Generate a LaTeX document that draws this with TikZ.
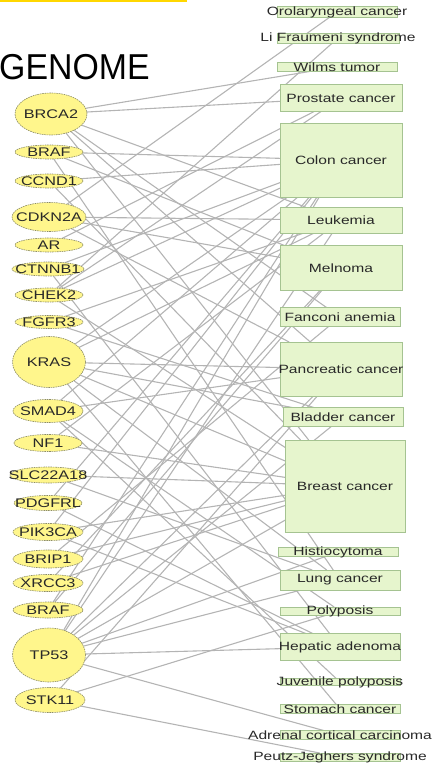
\documentclass[tikz,border=0pt]{standalone}
\usepackage{fontspec}
\setmainfont{Liberation Sans}
\newfontfamily\genefont[FakeStretch=1.3]{Liberation Sans}
\newfontfamily\disfont[FakeStretch=1.3]{Liberation Sans}
\newfontfamily\titlefont[FakeStretch=0.94]{Liberation Sans}
\usetikzlibrary{shapes.geometric,backgrounds}
\definecolor{genefill}{RGB}{255,246,140}
\definecolor{geneline}{RGB}{140,140,100}
\definecolor{disfill}{RGB}{230,245,205}
\definecolor{disline}{RGB}{165,195,145}
\definecolor{edgegray}{RGB}{180,180,180}
\definecolor{goldbar}{RGB}{255,215,0}
\definecolor{txt}{RGB}{40,40,40}
\tikzset{
  gene/.style={ellipse, fill=genefill, draw=geneline, line width=0.6pt, dash pattern=on 1.6pt off 0.8pt, inner sep=0pt, outer sep=0pt},
  dis/.style={rectangle, fill=disfill, draw=disline, line width=0.7pt, inner sep=0pt, outer sep=0pt},
  glabel/.style={font=\genefont\fontsize{12.5}{12.5}\selectfont, text=txt, inner sep=0pt},
  dlabel/.style={font=\disfont\fontsize{12}{12}\selectfont, text=txt, inner sep=0pt},
  link/.style={draw=edgegray, line width=1.1pt},
}
\begin{document}
\begin{tikzpicture}[x=1pt,y=-1pt]
\useasboundingbox (0,0) rectangle (437,765);
\fill[goldbar] (0,0) rectangle (187,1.6);
\node[font=\titlefont\fontsize{36}{36}\selectfont, anchor=west, inner sep=0pt] (title) at (-1,67) {GENOME};
% genes
\node[gene, minimum width=72pt, minimum height=42pt, label={[glabel]center:BRCA2}] (brcaA) at (51,114) {};
\node[gene, minimum width=68pt, minimum height=14pt, label={[glabel]center:BRAF}] (brafA) at (49,152) {};
\node[gene, minimum width=68pt, minimum height=14pt, label={[glabel]center:CCND1}] (ccnd) at (49,181) {};
\node[gene, minimum width=74pt, minimum height=29pt, label={[glabel]center:CDKN2A}] (cdkn) at (49,217) {};
\node[gene, minimum width=68pt, minimum height=14pt, label={[glabel]center:AR}] (ar) at (49,245) {};
\node[gene, minimum width=72pt, minimum height=14pt, label={[glabel]center:CTNNB1}] (ctnnb) at (48,269) {};
\node[gene, minimum width=68pt, minimum height=14pt, label={[glabel]center:CHEK2}] (chek) at (49,295) {};
\node[gene, minimum width=68pt, minimum height=13pt, label={[glabel]center:FGFR3}] (fgfr) at (49,322) {};
\node[gene, minimum width=73pt, minimum height=51pt, label={[glabel]center:KRAS}] (kras) at (49,362) {};
\node[gene, minimum width=70pt, minimum height=23pt, label={[glabel]center:SMAD4}] (smad) at (48,411) {};
\node[gene, minimum width=68pt, minimum height=17pt, label={[glabel]center:NF1}] (nf) at (48,443) {};
\node[gene, minimum width=76pt, minimum height=16pt, label={[glabel]center:SLC22A18}] (slc) at (48,475) {};
\node[gene, minimum width=68pt, minimum height=15pt, label={[glabel]center:PDGFRL}] (pdgfrl) at (48,503) {};
\node[gene, minimum width=70pt, minimum height=17pt, label={[glabel]center:PIK3CA}] (pik) at (48,532) {};
\node[gene, minimum width=70pt, minimum height=18pt, label={[glabel]center:BRIP1}] (brip) at (48,559) {};
\node[gene, minimum width=70pt, minimum height=17pt, label={[glabel]center:XRCC3}] (xrcc) at (48,583) {};
\node[gene, minimum width=70pt, minimum height=16pt, label={[glabel]center:BRAF}] (brafB) at (48,610) {};
\node[gene, minimum width=73pt, minimum height=54pt, label={[glabel]center:TP53}] (tp) at (49,655) {};
\node[gene, minimum width=70pt, minimum height=25pt, label={[glabel]center:STK11}] (stk) at (50,700) {};
% diseases
\node[dis, minimum width=120pt, minimum height=11pt, label={[dlabel]center:Orolaryngeal cancer}] (oro) at (337,12) {};
\node[dis, minimum width=122pt, minimum height=10pt, label={[dlabel]center:Li Fraumeni syndrome}] (lif) at (338,38) {};
\node[dis, minimum width=120pt, minimum height=9pt, label={[dlabel]center:Wilms tumor}] (wilms) at (337,67) {};
\node[dis, minimum width=122pt, minimum height=27pt, label={[dlabel]center:Prostate cancer}] (pros) at (341,98) {};
\node[dis, minimum width=122pt, minimum height=74pt, label={[dlabel]center:Colon cancer}] (colon) at (341,160) {};
\node[dis, minimum width=122pt, minimum height=26pt, label={[dlabel]center:Leukemia}] (leuk) at (341,220) {};
\node[dis, minimum width=122pt, minimum height=45pt, label={[dlabel]center:Melnoma}] (mel) at (341,268) {};
\node[dis, minimum width=120pt, minimum height=19pt, label={[dlabel]center:Fanconi anemia}] (fanc) at (340,317) {};
\node[dis, minimum width=122pt, minimum height=54pt, label={[dlabel]center:Pancreatic cancer}] (panc) at (341,369) {};
\node[dis, minimum width=120pt, minimum height=19pt, label={[dlabel]center:Bladder cancer}] (blad) at (343,417) {};
\node[dis, minimum width=120pt, minimum height=92pt, label={[dlabel]center:Breast cancer}] (breast) at (345,486) {};
\node[dis, minimum width=120pt, minimum height=9pt, label={[dlabel]center:Histiocytoma}] (hist) at (338,552) {};
\node[dis, minimum width=120pt, minimum height=20pt, label={[dlabel]center:Lung cancer}] (lung) at (340,580) {};
\node[dis, minimum width=120pt, minimum height=8pt, label={[dlabel]center:Polyposis}] (poly) at (340,611) {};
\node[dis, minimum width=120pt, minimum height=27pt, label={[dlabel]center:Hepatic adenoma}] (hep) at (340,647) {};
\node[dis, minimum width=120pt, minimum height=7pt, label={[dlabel]center:Juvenile polyposis}] (juv) at (340,682) {};
\node[dis, minimum width=120pt, minimum height=9pt, label={[dlabel]center:Stomach cancer}] (stom) at (340,709) {};
\node[dis, minimum width=120pt, minimum height=9pt, label={[dlabel]center:Adrenal cortical carcinoma}] (adr) at (340,735) {};
\node[dis, minimum width=120pt, minimum height=8pt, label={[dlabel]center:Peutz-Jeghers syndrome}] (peutz) at (340,757) {};
\begin{pgfonlayer}{background}
\foreach \a/\b in {brcaA/wilms, brcaA/pros, brcaA/leuk, brcaA/fanc, brcaA/panc, brcaA/breast,
  brafA/colon, brafA/mel, brafA/lung, ccnd/colon, ccnd/breast,
  cdkn/oro, cdkn/leuk, cdkn/mel, cdkn/panc, ar/pros, ctnnb/colon, ctnnb/hep,
  chek/lif, chek/pros, chek/colon, chek/breast, fgfr/blad, fgfr/leuk,
  kras/colon, kras/leuk, kras/panc, kras/blad, kras/lung, kras/breast, kras/stom,
  smad/colon, smad/panc, smad/juv, smad/poly, nf/leuk, nf/breast, slc/breast, slc/lung,
  pdgfrl/colon, pdgfrl/hep, pik/colon, pik/breast, pik/hep, brip/fanc, brip/breast,
  xrcc/breast, xrcc/mel, brafB/colon, brafB/mel,
  tp/colon, tp/leuk, tp/panc, tp/blad, tp/breast, tp/hist, tp/lung, tp/hep, tp/adr,
  stk/peutz, stk/panc, stk/poly}
  \draw[link] (\a) -- (\b);
\end{pgfonlayer}
\end{tikzpicture}
\end{document}
